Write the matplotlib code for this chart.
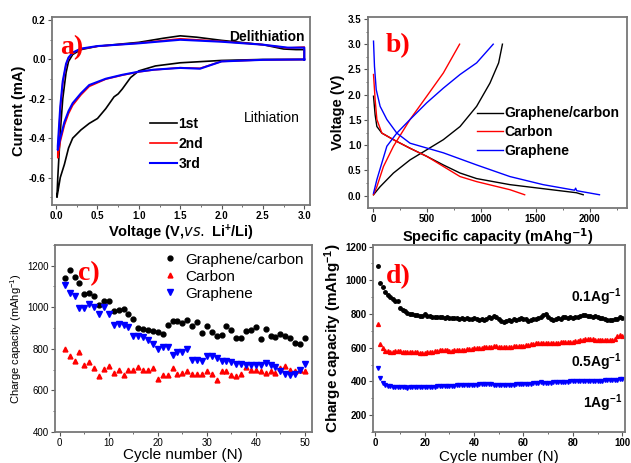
import matplotlib
matplotlib.use("Agg")
import matplotlib.pyplot as plt
from matplotlib.ticker import MultipleLocator, FormatStrFormatter

plt.rcParams["font.family"] = ["Liberation Sans", "DejaVu Sans"]
plt.rcParams["mathtext.default"] = "regular"

# ---- a) CV curves: closed loops (cathodic sweep 3 V -> 0 V, then anodic 0 V -> 3 V)
cv1_v = [3.0, 2.5, 2.0, 1.5, 1.2, 1.0, 0.9, 0.8, 0.75, 0.7, 0.6, 0.5, 0.4, 0.3, 0.2,
         0.15, 0.1, 0.05, 0.02, 0.01, 0.02, 0.05, 0.08, 0.12, 0.15, 0.2, 0.3, 0.5,
         1.0, 1.3, 1.5, 1.7, 2.0, 2.5, 2.75, 2.9, 3.0, 3.0]
cv1_i = [0.0, 0.0, -0.005, -0.017, -0.033, -0.058, -0.092, -0.15, -0.175, -0.19,
         -0.25, -0.30, -0.325, -0.358, -0.40, -0.45, -0.533, -0.60, -0.675, -0.70,
         -0.60, -0.37, -0.20, -0.067, -0.01, 0.025, 0.05, 0.067, 0.087, 0.108, 0.12,
         0.113, 0.097, 0.075, 0.053, 0.05, 0.05, 0.0]
cv2_v = [3.0, 2.5, 2.0, 1.74, 1.5, 1.18, 1.0, 0.8, 0.6, 0.4, 0.3, 0.2, 0.15, 0.1,
         0.05, 0.02, 0.02, 0.05, 0.08, 0.12, 0.15, 0.2, 0.3, 0.5, 1.0, 1.5, 2.0,
         2.5, 2.8, 3.0, 3.0]
cv2_i = [0.0, -0.002, -0.01, -0.045, -0.042, -0.053, -0.063, -0.08, -0.10, -0.137,
         -0.18, -0.233, -0.275, -0.333, -0.417, -0.50, -0.47, -0.26, -0.12, -0.027,
         0.007, 0.033, 0.053, 0.067, 0.083, 0.105, 0.092, 0.075, 0.058, 0.063, 0.0]
cv3_v = [3.0, 2.5, 2.0, 1.74, 1.5, 1.18, 1.0, 0.8, 0.6, 0.4, 0.3, 0.2, 0.15, 0.1,
         0.05, 0.02, 0.02, 0.05, 0.08, 0.12, 0.15, 0.2, 0.3, 0.5, 1.0, 1.5, 2.0,
         2.5, 2.8, 3.0, 3.0]
cv3_i = [0.0, -0.002, -0.01, -0.047, -0.043, -0.052, -0.062, -0.078, -0.098, -0.13,
         -0.172, -0.222, -0.262, -0.318, -0.40, -0.46, -0.44, -0.24, -0.11, -0.022,
         0.01, 0.035, 0.055, 0.068, 0.082, 0.100, 0.090, 0.075, 0.060, 0.060, 0.0]

# ---- b) discharge / charge profiles
gc_dis_q = [6, 21, 37, 83, 190, 343, 497, 650, 804, 957, 1264, 1570, 1877, 1940]
gc_dis_v = [1.97, 1.6, 1.37, 1.24, 1.11, 0.94, 0.78, 0.61, 0.45, 0.34, 0.22, 0.14, 0.06, 0.02]
gc_chg_q = [6, 67, 190, 343, 497, 650, 804, 957, 1080, 1160, 1195]
gc_chg_v = [0.02, 0.18, 0.45, 0.71, 0.91, 1.11, 1.37, 1.77, 2.23, 2.63, 3.0]
c_dis_q = [6, 21, 37, 83, 190, 343, 497, 650, 804, 957, 1110, 1264, 1400]
c_dis_v = [2.40, 1.9, 1.51, 1.24, 1.11, 0.94, 0.78, 0.58, 0.38, 0.28, 0.2, 0.12, 0.02]
c_chg_q = [6, 37, 98, 190, 343, 497, 650, 800]
c_chg_v = [0.02, 0.18, 0.58, 0.98, 1.51, 1.97, 2.43, 3.0]
g_dis_q = [6, 15, 31, 67, 129, 221, 343, 650, 957, 1264, 1570, 1860, 1870, 1880, 2090]
g_dis_v = [3.06, 2.56, 2.1, 1.77, 1.51, 1.24, 1.04, 0.85, 0.61, 0.38, 0.22, 0.11, 0.15, 0.10, 0.02]
g_chg_q = [6, 37, 129, 221, 343, 497, 650, 804, 957, 1110]
g_chg_v = [0.05, 0.32, 0.98, 1.24, 1.51, 1.84, 2.13, 2.4, 2.63, 3.0]

# ---- c) cycling at the same rate, cycles 1..50
cyc_c = list(range(1, 51))
gc_cap = [1140, 1181, 1148, 1116, 1063, 1068, 1055, 1009, 1030, 1030,
          982, 985, 993, 966, 946, 901, 896, 893, 888, 880,
          872, 917, 933, 933, 925, 941, 909, 928, 874, 912,
          880, 864, 866, 909, 893, 852, 852, 885, 893, 904,
          849, 896, 864, 857, 872, 861, 852, 828, 825, 852]
carbon_cap = [799, 764, 743, 785, 723, 735, 710, 670, 702, 718,
              683, 699, 672, 699, 699, 712, 696, 699, 707, 655,
              675, 672, 707, 678, 683, 691, 680, 678, 678, 691,
              680, 651, 694, 691, 672, 670, 680, 712, 699, 699,
              694, 683, 691, 683, 707, 718, 699, 691, 696, 691]
graphene_cap = [1108, 1067, 1055, 998, 998, 1014, 1001, 969, 1001, 966,
                914, 920, 917, 906, 861, 861, 857, 844, 825, 801,
                809, 809, 772, 783, 783, 799, 748, 748, 743, 764,
                767, 756, 743, 743, 739, 727, 727, 720, 720, 720,
                720, 731, 723, 712, 691, 680, 675, 680, 699, 727]

# ---- d) cycling of graphene/carbon at three rates, cycles 1..100
cyc_d = list(range(1, 101))
rate01 = [1086, 985, 960, 930, 915, 900, 890, 880, 875, 835,
          825, 815, 808, 800, 798, 795, 792, 790, 788, 800,
          790, 786, 784, 782, 785, 780, 783, 778, 780, 776,
          778, 775, 777, 772, 776, 770, 774, 772, 768, 774,
          770, 766, 772, 765, 768, 780, 775, 790, 785, 770,
          760, 752, 758, 765, 760, 768, 762, 770, 775, 772,
          768, 760, 765, 770, 772, 778, 785, 795, 800, 785,
          770, 762, 768, 775, 770, 780, 782, 778, 782, 776,
          780, 785, 790, 792, 795, 790, 788, 785, 786, 782,
          778, 775, 770, 765, 762, 766, 770, 772, 780, 778]
rate05 = [740, 620, 598, 582, 578, 576, 575, 578, 580, 578,
          577, 576, 575, 574, 573, 572, 572, 571, 570, 571,
          572, 574, 576, 578, 582, 585, 586, 585, 584, 583,
          583, 584, 585, 586, 588, 589, 590, 592, 594, 596,
          597, 598, 600, 602, 603, 604, 606, 610, 608, 607,
          606, 605, 606, 607, 607, 608, 609, 610, 611, 612,
          614, 617, 620, 623, 626, 628, 629, 630, 630, 629,
          628, 628, 629, 630, 631, 632, 633, 634, 634, 635,
          637, 640, 645, 648, 650, 650, 650, 649, 648, 648,
          647, 646, 645, 645, 646, 645, 650, 668, 675, 668]
rate1 = [482, 420, 392, 380, 375, 372, 368, 365, 364, 365,
         364, 364, 363, 364, 364, 365, 365, 366, 365, 366,
         366, 367, 368, 369, 370, 371, 372, 373, 373, 374,
         374, 375, 376, 377, 377, 378, 379, 380, 380, 381,
         381, 382, 382, 382, 383, 382, 382, 381, 381, 380,
         380, 380, 380, 381, 381, 381, 382, 382, 382, 383,
         384, 385, 387, 389, 391, 393, 394, 393, 392, 392,
         393, 394, 395, 396, 397, 398, 398, 399, 400, 400,
         400, 401, 401, 401, 402, 402, 402, 402, 403, 403,
         404, 405, 406, 407, 408, 409, 410, 411, 413, 415]

fig = plt.figure(figsize=(6.31, 4.63), dpi=100)
ax_a = fig.add_axes([0.0824, 0.557, 0.409, 0.406])
ax_b = fig.add_axes([0.583, 0.551, 0.41, 0.4125])
ax_c = fig.add_axes([0.087, 0.067, 0.407, 0.404])
ax_d = fig.add_axes([0.591, 0.067, 0.399, 0.404])

for ax in (ax_a, ax_b, ax_c, ax_d):
    for s in ax.spines.values():
        s.set_color("#777777")
        s.set_linewidth(1.3)
    ax.tick_params(which="both", direction="out", color="#555555", labelsize=7, pad=1.5)
    ax.tick_params(which="major", length=3)
    ax.tick_params(which="minor", length=1.5)


def bold_ticks(ax):
    for lab in ax.get_xticklabels() + ax.get_yticklabels():
        lab.set_fontweight("bold")


def panel_letter(ax, s, x, y):
    ax.text(x, y, s, transform=ax.transAxes, color="red", fontsize=20,
            fontweight="bold", family=["Liberation Serif", "DejaVu Serif"],
            va="center", ha="left")

# ---- a)
ax_a.plot(cv1_v, cv1_i, color="black", lw=1.2, label="1st")
ax_a.plot(cv2_v, cv2_i, color="red", lw=1.2, label="2nd")
ax_a.plot(cv3_v, cv3_i, color="blue", lw=1.5, label="3rd")
ax_a.set_xlim(-0.05, 3.07)
ax_a.set_ylim(-0.74, 0.215)
ax_a.xaxis.set_major_locator(MultipleLocator(0.5))
ax_a.xaxis.set_minor_locator(MultipleLocator(0.25))
ax_a.xaxis.set_major_formatter(FormatStrFormatter("%.1f"))
ax_a.yaxis.set_major_locator(MultipleLocator(0.2))
ax_a.yaxis.set_minor_locator(MultipleLocator(0.1))
ax_a.set_yticks([-0.6, -0.4, -0.2, 0.0, 0.2])
ax_a.set_yticklabels(["-0.6", "-0.4", "-0.2", "0.0", "0.2"])
ax_a.set_xlabel("Voltage (V,$\\it{vs.}$ Li$^{+}$/Li)", fontsize=10.5, fontweight="bold", labelpad=1)
ax_a.set_ylabel("Current (mA)", fontsize=10.5, fontweight="bold", labelpad=2)
bold_ticks(ax_a)
ax_a.legend(loc="upper left", bbox_to_anchor=(0.36, 0.5), frameon=False,
            prop={"weight": "bold", "size": 10}, handlelength=1.9,
            handletextpad=0.1, labelspacing=0.45, borderaxespad=0)
ax_a.text(0.98, 0.93, "Delithiation", transform=ax_a.transAxes, ha="right",
          va="top", fontsize=10, fontweight="bold")
ax_a.text(0.96, 0.44, "Lithiation", transform=ax_a.transAxes, ha="right", fontsize=10)
panel_letter(ax_a, "a)", 0.03, 0.84)

# ---- b)
ax_b.plot(gc_dis_q, gc_dis_v, color="black", lw=1.0, label="Graphene/carbon")
ax_b.plot(gc_chg_q, gc_chg_v, color="black", lw=1.0)
ax_b.plot(c_dis_q, c_dis_v, color="red", lw=1.0, label="Carbon")
ax_b.plot(c_chg_q, c_chg_v, color="red", lw=1.0)
ax_b.plot(g_dis_q, g_dis_v, color="blue", lw=1.0, label="Graphene")
ax_b.plot(g_chg_q, g_chg_v, color="blue", lw=1.0)
ax_b.set_xlim(-46, 2340)
ax_b.set_ylim(-0.24, 3.54)
ax_b.xaxis.set_major_locator(MultipleLocator(500))
ax_b.xaxis.set_minor_locator(MultipleLocator(250))
ax_b.yaxis.set_minor_locator(MultipleLocator(0.25))
ax_b.set_yticks([0, 0.5, 1.0, 1.5, 2.0, 2.5, 3.0, 3.5])
ax_b.set_yticklabels(["0.0", "0.5", "1.0", "1.5", "2.0", "2.5", "3.0", "3.5"])
ax_b.set_xlabel("Specific capacity (mAhg$^{\\mathbf{-1}}$)", fontsize=10.5, fontweight="bold", labelpad=1)
ax_b.set_ylabel("Voltage (V)", fontsize=10.5, fontweight="bold", labelpad=2)
bold_ticks(ax_b)
ax_b.legend(loc="upper left", bbox_to_anchor=(0.4, 0.56), frameon=False,
            prop={"weight": "bold", "size": 10}, handlelength=1.9,
            handletextpad=0.1, labelspacing=0.35, borderaxespad=0)
panel_letter(ax_b, "b)", 0.07, 0.85)

# ---- c)
ax_c.plot(cyc_c, gc_cap, "o", color="black", ms=3.5, label="Graphene/carbon")
ax_c.plot(cyc_c, carbon_cap, "^", color="red", ms=3.5, label="Carbon")
ax_c.plot(cyc_c, graphene_cap, "v", color="blue", ms=4, label="Graphene")
ax_c.set_xlim(-1, 51.4)
ax_c.set_ylim(400, 1300)
ax_c.xaxis.set_major_locator(MultipleLocator(10))
ax_c.xaxis.set_minor_locator(MultipleLocator(5))
ax_c.set_yticks([400, 600, 800, 1000, 1200])
ax_c.yaxis.set_minor_locator(MultipleLocator(100))
ax_c.set_xlabel("Cycle number (N)", fontsize=11, labelpad=0)
ax_c.set_ylabel("Charge capacity (mAhg$^{-1}$)", fontsize=8, labelpad=2)
ax_c.legend(loc="upper right", frameon=False, prop={"size": 11}, handlelength=1.2,
            handletextpad=0.4, labelspacing=0.2, borderaxespad=0.1)
panel_letter(ax_c, "c)", 0.09, 0.845)

# ---- d)
ax_d.plot(cyc_d, rate01, "o", color="black", ms=2.5)
ax_d.plot(cyc_d, rate05, "^", color="red", ms=2.8)
ax_d.plot(cyc_d, rate1, "v", color="blue", ms=2.8)
ax_d.set_xlim(-1, 101)
ax_d.set_ylim(100, 1210)
ax_d.xaxis.set_major_locator(MultipleLocator(20))
ax_d.xaxis.set_minor_locator(MultipleLocator(10))
ax_d.set_yticks([200, 400, 600, 800, 1000, 1200])
ax_d.yaxis.set_minor_locator(MultipleLocator(100))
ax_d.set_xlabel("Cycle number (N)", fontsize=11, labelpad=1)
ax_d.set_ylabel("Charge capacity (mAhg$^{-1}$)", fontsize=11, fontweight="bold", labelpad=1)
bold_ticks(ax_d)
ax_d.text(0.99, 0.72, "0.1Ag$^{-1}$", transform=ax_d.transAxes, ha="right", va="center",
          fontsize=10, fontweight="bold")
ax_d.text(0.99, 0.375, "0.5Ag$^{-1}$", transform=ax_d.transAxes, ha="right", va="center",
          fontsize=10, fontweight="bold")
ax_d.text(0.99, 0.155, "1Ag$^{-1}$", transform=ax_d.transAxes, ha="right", va="center",
          fontsize=10, fontweight="bold")
panel_letter(ax_d, "d)", 0.05, 0.83)

fig.savefig("out.png", dpi=100)
